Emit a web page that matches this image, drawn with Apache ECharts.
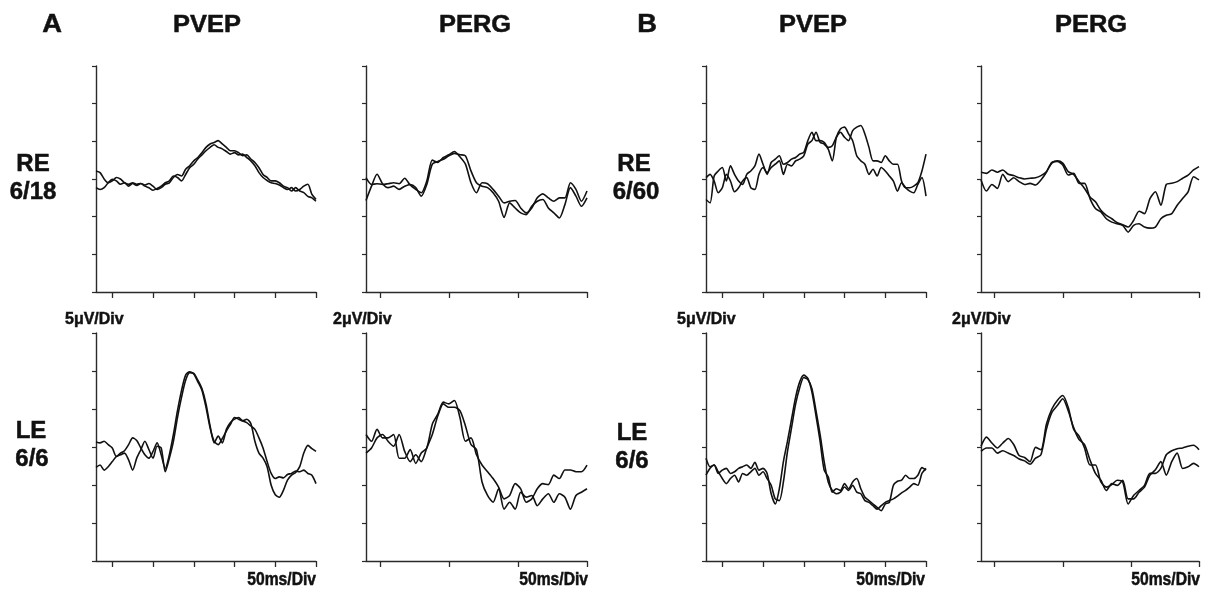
<!DOCTYPE html>
<html>
<head>
<meta charset="utf-8">
<title>PVEP / PERG</title>
<script src="https://cdn.jsdelivr.net/npm/echarts@6/dist/echarts.min.js"></script>
<style>
  html, body { margin: 0; padding: 0; background: #fff; }
  #main { width: 1212px; height: 591px; }
</style>
</head>
<body>
<div id="main"></div>
<script>
// time bases (ms)
var pvepTime = [-20, -15, -10, -5, 0, 5, 10, 15, 20, 25, 30, 35, 40, 45, 50, 55, 60, 65, 70, 75,
    80, 85, 90, 95, 100, 105, 110, 115, 120, 125, 130, 135, 140, 145, 150, 155, 160, 165, 170, 175,
    180, 185, 190, 195, 200, 205, 210, 215, 220, 225, 230, 235, 240, 245, 250];
var pergTime = [-10, -6, -2, 2, 6, 10, 14, 18, 22, 26, 30, 34, 38, 42, 46, 50, 54, 58, 62, 66,
    70, 74, 78, 82, 86, 90, 94, 98, 102, 106, 110, 114, 118, 122, 126, 130, 134, 138, 142, 146, 150];
var pvepTicks = [0, 50, 100, 150, 200, 250];
var pergTicks = [0, 50, 100, 150];

// A, RE 6/18 (µV)
var aRePvep1 = [1.07, 0.85, 0, -0.5, -0.25, 0.2, 0, -0.5, -0.7, -0.5, -0.7, -0.6, -0.8, -0.6, -0.95, -1.4, -1.15, -0.7, -0.5, 0.2,
    0.6, 0.4, 1.3, 1.75, 2.4, 2.85, 3.5, 4.2, 4.65, 4.85, 5.1, 4.65, 4.2, 3.75, 3.75, 3.5, 3.1, 3.2, 2.65, 2.2,
    1.5, 0.6, 0.2, -0.25, -0.25, -0.5, -0.95, -1.15, -1.6, -1.15, -1.6, -1.8, -2.3, -2.5, -2.95];
var aRePvep2 = [-1.15, -1.4, -1.15, -0.5, -0.05, -0.25, -0.7, -0.5, -0.95, -0.6, -0.85, -0.6, -0.95, -1.15, -1.5, -1.25, -0.95, -0.5, -0.25, 0.4,
    0.2, -0.25, 0.6, 1.5, 1.95, 2.65, 3.2, 3.75, 4.2, 4.55, 4.2, 4.0, 3.65, 3.3, 3.5, 3.2, 3.3, 2.85, 2.4, 1.75,
    0.85, 0.2, -0.2, -0.5, -0.6, -0.8, -1.15, -1.4, -1.15, -1.6, -1.4, -0.95, -0.7, -2.05, -2.7];
var aRePerg1 = [0.07, -0.29, -0.25, -0.29, -0.25, -0.2, -0.25, 0.04, -0.32, -0.55, -0.73, -0.11, 1.0, 0.88, 1.14, 1.29, 1.46, 1.18, 0.79, -0.2,
    -0.73, -0.2, -0.25, -0.55, -0.91, -1.27, -1.18, -1.14, -1.54, -1.8, -1.54, -1.0, -0.79, -1.0, -1.18, -1.0, -1.0, -0.2, -0.55, -1.18, -0.64];
var aRePerg2 = [-1.14, -0.38, 0.25, -0.25, -0.46, -0.38, -0.55, -0.38, -0.29, -0.46, -0.91, -0.29, 0.79, 0.93, 1.05, 1.23, 1.36, 1.29, 1.23, 0.43,
    -0.2, -0.38, -0.46, -0.73, -1.18, -2.04, -1.27, -1.54, -1.8, -1.89, -1.45, -1.18, -1.09, -1.54, -1.8, -2.07, -1.36, -0.46, -0.91, -1.45, -1.0];

// A, LE 6/6
var aLePvep1 = [0.67, 0.54, 0.76, 0.31, -0.13, -1.25, -0.8, -0.49, 0.31, 1.2, 0.85, -0.13, -1.03, -1.47, -0.58, 0.54, -1.03, -2.81, -1.03, 1.65,
    4.78, 7.46, 9.46, 9.91, 9.6, 8.57, 7.46, 5.22, 2.54, 0.76, 0.31, 1.12, 2.1, 2.99, 3.88, 3.66, 3.44, 3.66, 3.08, 0.76,
    -0.8, -1.47, -2.59, -5.04, -6.29, -6.61, -5.71, -4.37, -3.71, -3.35, -2.59, -0.8, 0.22, -0.22, -0.58];
var aLePvep2 = [-2.68, -2.37, -3.04, -2.59, -1.92, -1.25, -1.03, -0.8, -1.7, -3.04, -1.47, -0.36, 0.76, -0.36, -1.47, 0.09, -0.13, -3.26, -1.47, 0.76,
    3.88, 6.56, 8.79, 9.78, 9.69, 8.79, 7.68, 5.67, 2.77, 0.54, 1.43, 0.54, 2.32, 3.21, 3.66, 3.88, 3.44, 3.21, 2.77, 2.32,
    1.2, -0.13, -1.92, -3.48, -4.15, -3.93, -4.06, -3.62, -3.48, -3.17, -3.26, -3.04, -3.48, -3.71, -4.82];
var aLePerg1 = [0.66, 0.3, 0.93, 0.48, 0.48, 0.66, -0.59, -0.59, -0.14, -0.86, -0.32, -0.05, 1.2, 1.73, 2.36, 2.27, 2.45, 1.55, 0.3, 0.48,
    -0.41, -0.95, -1.3, -1.66, -2.11, -2.73, -2.55, -1.93, -2.2, -2.91, -2.73, -2.2, -1.93, -1.98, -1.48, -1.66, -1.21, -1.21, -1.3, -1.3, -0.95];
var aLePerg2 = [-0.32, -0.05, 0.48, 0.66, 0.3, 0.04, 0.66, -0.23, -0.77, -0.41, -0.77, -0.05, 0.66, 1.64, 2.27, 2.09, 2.09, 1.91, 1.11, 0.13,
    -0.14, -1.84, -2.55, -2.91, -2.2, -3.27, -2.91, -3.27, -2.38, -2.64, -2.55, -3.09, -2.73, -2.46, -2.91, -2.46, -2.64, -3.27, -2.55, -2.38, -2.2];

// B, RE 6/60
var bRePvep1 = [0.18, 0.62, -0.27, -1.83, -1.16, 0.62, -0.27, -1.7, -1.16, -0.27, 0.18, -1.16, -1.38, 0.62, 1.52, 0.85, 1.52, 1.96, 2.41, 0.62,
    1.96, 1.74, 2.41, 2.63, 3.08, 4.64, 5.09, 6.2, 4.87, 4.64, 3.97, 2.41, 5.54, 6.65, 6.88, 5.98, 5.09, 3.08, 2.41, 1.96,
    0.62, 1.29, 0.4, 1.52, 1.07, 0.4, -0.27, -1.61, -0.49, -1.16, -1.61, -1.83, -0.71, 0.18, -2.28];
var bRePvep2 = [-2.72, -3.17, 0.4, 1.07, 1.52, -0.27, 1.74, 0.62, -0.27, -0.71, 0.62, 1.07, 1.74, 3.3, 1.96, 0.62, 2.19, 2.63, 3.08, 1.96,
    2.19, 2.63, 2.86, 3.3, 3.53, 5.09, 6.2, 5.09, 5.09, 4.87, 4.2, 4.42, 5.54, 6.2, 5.54, 5.09, 6.43, 6.88, 7.1, 5.98,
    4.2, 2.41, 2.41, 2.19, 3.08, 2.41, 1.96, 1.96, -0.27, -1.16, -1.16, -0.94, -0.49, 1.07, 3.3];
var bRePerg1 = [0.36, 0.3, 0.48, 0.36, 0.48, 0.25, 0.18, 0.07, 0, 0.04, 0.07, 0.18, 0.39, 0.84, 0.96, 0.84, 0.39, 0.25, -0.14, -0.5,
    -0.95, -1.21, -1.66, -1.93, -2.11, -2.32, -2.43, -2.55, -2.2, -1.71, -1.84, -1.04, -0.68, -1.39, -0.29, -0.23, -0.14, 0.04, 0.21, 0.48, 0.66];
var bRePerg2 = [-0.05, -0.64, -0.29, -0.5, 0.25, -0.14, 0.07, -0.14, -0.29, -0.23, -0.32, -0.05, 0.36, 0.89, 0.93, 0.75, 0.21, 0.3, -0.23, -0.23,
    -1.04, -1.57, -1.75, -2.11, -2.29, -2.38, -2.46, -2.82, -2.46, -2.38, -2.55, -2.61, -2.55, -2.11, -1.93, -1.84, -1.39, -1.04, -0.68, 0.12, -0.05];

// B, LE 6/6
var bLePvep1 = [-1.47, -2.59, -2.37, -3.48, -3.04, -2.81, -3.48, -3.26, -2.81, -2.59, -2.37, -2.81, -2.01, -3.04, -2.81, -3.48, -6.16, -7.5, -5.49, -1.92,
    0.76, 3.66, 6.56, 8.57, 9.46, 9.02, 7.23, 4.11, 0.76, -3.04, -3.93, -5.94, -5.49, -5.71, -4.82, -5.49, -4.6, -4.15, -5.49, -6.61,
    -7.05, -7.5, -7.95, -8.39, -7.5, -7.28, -5.04, -4.51, -4.37, -3.71, -4.15, -4.15, -3.71, -2.72, -3.04];
var bLePvep2 = [-3.71, -2.81, -2.37, -3.26, -4.15, -4.82, -4.15, -3.71, -4.6, -3.48, -3.71, -3.26, -2.81, -3.71, -3.26, -4.15, -5.04, -6.83, -7.05, -4.6,
    -0.58, 2.54, 5.67, 7.81, 9.15, 8.88, 7.68, 4.78, 1.65, -1.92, -4.6, -5.71, -6.16, -5.94, -5.27, -5.71, -5.04, -5.94, -6.16, -7.05,
    -7.28, -7.72, -8.17, -7.72, -7.28, -7.05, -6.83, -6.47, -6.03, -5.71, -5.27, -4.82, -5.04, -3.48, -2.81];
var bLePerg1 = [0.04, 0.52, 0.21, -0.05, 0.21, 0.45, 0.13, -0.45, -0.55, -0.77, -0.02, -0.14, 1.2, 2.0, 2.45, 2.71, 2.09, 0.93, 0.57, -0.05,
    -0.95, -0.95, -1.84, -2.11, -1.98, -1.75, -1.84, -3.0, -2.55, -2.29, -2.02, -1.39, -1.39, -1.13, -0.41, -0.2, -0.09, -0.05, 0.04, 0.09, -0.14];
var bLePerg2 = [-0.23, -0.05, -0.05, -0.32, -0.2, -0.32, -0.45, -0.63, -0.73, -0.91, -0.59, -0.41, 0.93, 1.82, 2.18, 2.54, 1.91, 1.02, 0.39, 0.13,
    -0.68, -1.39, -1.75, -2.29, -1.93, -2.02, -1.75, -2.73, -2.73, -2.38, -2.11, -1.48, -1.2, -0.77, -1.48, -0.77, -0.32, -1.13, -1.04, -0.86, -1.04];

(function () {
    var myChart = echarts.init(document.getElementById('main'));

    // panel layout: column / row in the figure
    var panels = [
        { col: 0, row: 0, kind: 'pvep', a: aRePvep1, b: aRePvep2 },
        { col: 1, row: 0, kind: 'perg', a: aRePerg1, b: aRePerg2 },
        { col: 0, row: 1, kind: 'pvep', a: aLePvep1, b: aLePvep2 },
        { col: 1, row: 1, kind: 'perg', a: aLePerg1, b: aLePerg2 },
        { col: 2, row: 0, kind: 'pvep', a: bRePvep1, b: bRePvep2 },
        { col: 3, row: 0, kind: 'perg', a: bRePerg1, b: bRePerg2 },
        { col: 2, row: 1, kind: 'pvep', a: bLePvep1, b: bLePvep2 },
        { col: 3, row: 1, kind: 'perg', a: bLePerg1, b: bLePerg2 }
    ];
    var colLeft = [96, 366, 706, 981];
    var colWidth = [220, 221, 220, 218];
    var rowTop = [66, 333];
    var rowHeight = [226, 228];
    var axisColor = '#2a2a2a';
    var traceColor = '#111';

    function pairs(time, values) {
        return time.map(function (t, i) { return [t, values[i]]; });
    }

    var grids = [], xAxes = [], yAxes = [], series = [];
    panels.forEach(function (p, i) {
        var pvep = p.kind === 'pvep';
        var time = pvep ? pvepTime : pergTime;
        grids.push({
            left: colLeft[p.col], top: rowTop[p.row],
            width: colWidth[p.col], height: rowHeight[p.row]
        });
        xAxes.push({
            gridIndex: i, type: 'value',
            min: pvep ? -20 : -10, max: pvep ? 250 : 150,
            axisLine: { onZero: false, lineStyle: { color: axisColor, width: 1.4 } },
            axisTick: {
                show: true, length: 6,
                customValues: pvep ? pvepTicks : pergTicks,
                lineStyle: { color: axisColor, width: 1.3 }
            },
            axisLabel: { show: false },
            splitLine: { show: false }
        });
        yAxes.push({
            gridIndex: i, type: 'value',
            min: pvep ? -15 : -6, max: pvep ? 15 : 6, interval: pvep ? 5 : 2,
            axisLine: { show: true, onZero: false, lineStyle: { color: axisColor, width: 1.4 } },
            axisTick: { show: true, length: 4, lineStyle: { color: axisColor, width: 1.2 } },
            axisLabel: { show: false },
            splitLine: { show: false }
        });
        [p.a, p.b].forEach(function (vals) {
            series.push({
                type: 'line', xAxisIndex: i, yAxisIndex: i,
                data: pairs(time, vals),
                showSymbol: false, smooth: 0.25,
                lineStyle: { color: traceColor, width: 1.6 },
                silent: true
            });
        });
    });

    // figure lettering: text, x, y, size, align, horizontal scale
    var texts = [
        ['A', 52, 25, 26, 'center', 1.05], ['PVEP', 207, 25, 24, 'center', 1.06], ['PERG', 475, 25, 24, 'center', 1.06],
        ['B', 647, 25, 26, 'center', 1.05], ['PVEP', 813, 25, 24, 'center', 1.06], ['PERG', 1091, 25, 24, 'center', 1.06],
        ['RE', 33, 164, 24, 'center', 1], ['6/18', 33, 192, 24, 'center', 1],
        ['LE', 31, 431, 24, 'center', 1], ['6/6', 32, 459, 24, 'center', 1],
        ['RE', 634, 164, 24, 'center', 1], ['6/60', 636, 192, 24, 'center', 1],
        ['LE', 632, 433, 24, 'center', 1], ['6/6', 632, 461, 24, 'center', 1],
        ['5μV/Div', 65, 319, 17, 'left', 0.94], ['2μV/Div', 333, 319, 17, 'left', 0.94],
        ['5μV/Div', 677, 319, 17, 'left', 0.94], ['2μV/Div', 952, 319, 17, 'left', 0.94],
        ['50ms/Div', 316, 580, 18, 'right', 0.87], ['50ms/Div', 588, 580, 18, 'right', 0.87],
        ['50ms/Div', 925, 580, 18, 'right', 0.87], ['50ms/Div', 1200, 580, 18, 'right', 0.87]
    ];
    var graphic = texts.map(function (t) {
        return {
            type: 'text', silent: true,
            x: t[1], y: t[2], scaleX: t[5],
            style: {
                text: t[0], x: 0, y: 0,
                font: 'bold ' + t[3] + 'px "Liberation Sans", Arial, sans-serif',
                fill: '#111', stroke: '#111', lineWidth: 0.5,
                textAlign: t[4], align: t[4], textVerticalAlign: 'middle', verticalAlign: 'middle'
            }
        };
    });

    var option = {
        backgroundColor: '#fff',
        animation: false,
        grid: grids,
        xAxis: xAxes,
        yAxis: yAxes,
        series: series,
        graphic: graphic
    };
    myChart.setOption(option);
    window.addEventListener('resize', function () {
        myChart.resize();
    });
})();
</script>
</body>
</html>
